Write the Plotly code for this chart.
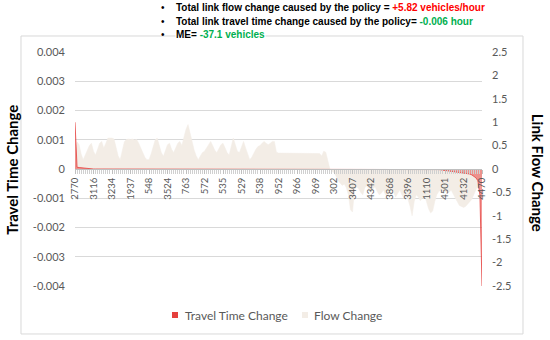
import plotly.graph_objects as go

# ---------------- data ----------------
tick_labels = ["2770", "3116", "3234", "1937", "548", "3524", "763", "572", "535",
               "529", "538", "952", "966", "969", "302", "3407", "4342", "3868",
               "3396", "1110", "4501", "4132", "4470"]
label_step = 9  # one label every 9 links

flow_change = [
    0.30, 0.58, 0.52, 0.32, 0.20, 0.30, 0.42, 0.50, 0.55,
    0.38, 0.30, 0.42, 0.55, 0.59, 0.45, 0.55, 0.66, 0.66,
    0.66, 0.64, 0.45, 0.28, 0.20, 0.38, 0.58, 0.63, 0.64,
    0.63, 0.64, 0.62, 0.63, 0.55, 0.45, 0.35, 0.25, 0.20,
    0.20, 0.32, 0.50, 0.62, 0.66, 0.52, 0.35, 0.27, 0.40,
    0.52, 0.55, 0.42, 0.35, 0.45, 0.55, 0.59, 0.50, 0.68,
    0.85, 0.95, 0.75, 0.55, 0.40, 0.28, 0.20, 0.28, 0.35,
    0.38, 0.45, 0.52, 0.59, 0.50, 0.40, 0.35, 0.45, 0.52,
    0.55, 0.45, 0.35, 0.30, 0.50, 0.66, 0.52, 0.38, 0.35,
    0.48, 0.59, 0.45, 0.30, 0.20, 0.25, 0.35, 0.42, 0.48,
    0.50, 0.55, 0.59, 0.55, 0.52, 0.55, 0.59, 0.59, 0.36,
    0.34, 0.34, 0.34, 0.34, 0.34, 0.34, 0.34, 0.34, 0.34,
    0.34, 0.34, 0.34, 0.34, 0.34, 0.34, 0.34, 0.34, 0.34,
    0.34, 0.34, 0.33, 0.28, 0.38, 0.36, 0.20, 0.00, -0.05,
    -0.08, -0.15, -0.25, -0.30, -0.35, -0.32, -0.40, -0.55, -0.87,
    -0.92, -0.45, -0.38, -0.42, -0.50, -0.55, -0.40, -0.35, -0.45,
    -0.50, -0.42, -0.38, -0.48, -0.55, -0.52, -0.45, -0.55, -0.60,
    -0.48, -0.40, -0.50, -0.60, -0.52, -0.45, -0.55, -0.62, -0.58,
    -0.65, -0.80, -1.00, -0.70, -0.55, -0.60, -0.68, -0.62, -0.55,
    -0.70, -0.85, -0.94, -0.90, -0.70, -0.55, -0.48, -0.45, -0.50,
    -0.48, -0.52, -0.50, -0.45, -0.55, -0.62, -0.70, -0.78, -0.80,
    -0.82, -0.80, -0.75, -0.72, -0.65, -0.55, -0.45, -0.35, -0.25,
    -0.15,
]

travel_time_change = [
    0.0016, 0.00006, 0.00005, 0.00004, 0.00003, 0.00002, 0.00001, 0.0, 0.0,
    0.0, 0.0, 0.0, 0.0, 0.0, 0.0, 0.0, 0.0, 0.0,
    0.0, 0.0, 0.0, 0.0, 0.0, 0.0, 0.0, 0.0, 0.0,
    0.0, 0.0, 0.0, 0.0, 0.0, 0.0, 0.0, 0.0, 0.0,
    0.0, 0.0, 0.0, 0.0, 0.0, 0.0, 0.0, 0.0, 0.0,
    0.0, 0.0, 0.0, 0.0, 0.0, 0.0, 0.0, 0.0, 0.0,
    0.0, 0.0, 0.0, 0.0, 0.0, 0.0, 0.0, 0.0, 0.0,
    0.0, 0.0, 0.0, 0.0, 0.0, 0.0, 0.0, 0.0, 0.0,
    0.0, 0.0, 0.0, 0.0, 0.0, 0.0, 0.0, 0.0, 0.0,
    0.0, 0.0, 0.0, 0.0, 0.0, 0.0, 0.0, 0.0, 0.0,
    0.0, 0.0, 0.0, 0.0, 0.0, 0.0, 0.0, 0.0, 0.0,
    0.0, 0.0, 0.0, 0.0, 0.0, 0.0, 0.0, 0.0, 0.0,
    0.0, 0.0, 0.0, 0.0, 0.0, 0.0, 0.0, 0.0, 0.0,
    0.0, 0.0, 0.0, 0.0, 0.0, 0.0, 0.0, 0.0, 0.0,
    0.0, 0.0, 0.0, 0.0, 0.0, 0.0, 0.0, 0.0, 0.0,
    0.0, 0.0, 0.0, 0.0, 0.0, 0.0, 0.0, 0.0, 0.0,
    0.0, 0.0, 0.0, 0.0, 0.0, 0.0, 0.0, 0.0, 0.0,
    0.0, 0.0, 0.0, 0.0, 0.0, 0.0, 0.0, 0.0, 0.0,
    0.0, 0.0, 0.0, 0.0, 0.0, 0.0, 0.0, 0.0, 0.0,
    0.0, 0.0, 0.0, 0.0, 0.0, 0.0, -0.00002, -0.00003, -0.00004,
    -0.00005, -0.00005, -0.00006, -0.00006, -0.00007, -0.00008, -0.00009, -0.0001, -0.00011,
    -0.00012, -0.00013, -0.00015, -0.00017, -0.0002, -0.00024, -0.0003, -0.0004, -0.0009,
    -0.004,
]

tt_ticks = [-0.004, -0.003, -0.002, -0.001, 0, 0.001, 0.002, 0.003, 0.004]
tt_tick_text = ["-0.004", "-0.003", "-0.002", "-0.001", "0", "0.001", "0.002", "0.003", "0.004"]
flow_ticks = [-2.5, -2, -1.5, -1, -0.5, 0, 0.5, 1, 1.5, 2, 2.5]
flow_tick_text = ["-2.5", "-2", "-1.5", "-1", "-0.5", "0", "0.5", "1", "1.5", "2", "2.5"]

series_names = ["Travel Time Change", "Flow Change"]
notes = [
    ("Total link flow change caused by the policy = ", "+5.82 vehicles/hour", "#FF0000"),
    ("Total link travel time change caused by the policy= ", "-0.006 hour", "#00B050"),
    ("ME= ", "-37.1 vehicles", "#00B050"),
]

# ---------------- styling ----------------
RED = "#E5403D"
RED_FILL = "rgba(232,70,66,0.55)"
BEIGE = "#F3EDE6"
GRAY_TXT = "#595959"
GRID = "#D9D9D9"
FONT = "Lato, Liberation Sans, sans-serif"

x = list(range(len(flow_change)))
tickvals = [i * label_step for i in range(len(tick_labels))]

fig = go.Figure()

# Flow change (right axis) - drawn first (below)
fig.add_trace(go.Scatter(
    x=x, y=flow_change, yaxis="y", mode="lines", name=series_names[1],
    line=dict(color=BEIGE, width=0.5), fill="tozeroy", fillcolor=BEIGE,
    showlegend=False, hoverinfo="skip"))

# Travel time change (left axis) - drawn on top
fig.add_trace(go.Scatter(
    x=x, y=travel_time_change, yaxis="y2", mode="lines", name=series_names[0],
    line=dict(color=RED, width=0.8), fill="tozeroy", fillcolor=RED_FILL,
    showlegend=False, hoverinfo="skip"))

fig.update_layout(
    width=550, height=340,
    margin=dict(l=75, r=68, t=52, b=54, autoexpand=False),
    paper_bgcolor="white", plot_bgcolor="white",
    font=dict(family=FONT, color=GRAY_TXT, size=11),
    showlegend=False,
    xaxis=dict(
        range=[0, len(x) - 1], anchor="free", position=0.5, automargin=False,
        tickmode="array", tickvals=tickvals, ticktext=tick_labels,
        tickangle=-90, tickfont=dict(size=9.5, color=GRAY_TXT, family=FONT),
        showgrid=False, zeroline=False, showline=True, linecolor="#BFBFBF", linewidth=1,
        ticks="outside", ticklen=4, tickcolor="#BFBFBF",
        minor=dict(tickmode="linear", tick0=0, dtick=1, ticks="outside", ticklen=4,
                   tickcolor="#D0D0D0", showgrid=False),
        fixedrange=True,
    ),
    yaxis=dict(
        side="right", range=[-2.5, 2.5], tickmode="array", automargin=False,
        tickvals=flow_ticks, ticktext=flow_tick_text,
        showgrid=False, zeroline=False, showline=False, ticks="",
        ticklabelstandoff=9, tickfont=dict(size=11, color=GRAY_TXT, family=FONT),
    ),
    yaxis2=dict(
        side="left", overlaying="y", range=[-0.004, 0.004], tickmode="array",
        automargin=False, tickvals=tt_ticks, ticktext=tt_tick_text,
        showgrid=True, gridcolor=GRID, gridwidth=1, zeroline=False, showline=False,
        ticks="", ticklabelstandoff=9, tickfont=dict(size=11, color=GRAY_TXT, family=FONT),
    ),
)

# outer chart border
fig.add_shape(type="rect", xref="paper", yref="paper",
              x0=-0.1327, x1=1.1007, y0=-0.205, y1=1.0684,
              line=dict(color=GRID, width=1), fillcolor="rgba(0,0,0,0)", layer="below")

# legend (marker squares + labels, placed like the original)
legend_items = [
    (series_names[0], RED, 0.2383, 0.2654),
    (series_names[1], BEIGE, 0.5577, 0.5823),
]
for name, col, sx, tx in legend_items:
    fig.add_shape(type="rect", xref="paper", yref="paper",
                  x0=sx, x1=sx + 0.0148, y0=-0.1368, y1=-0.1111,
                  line=dict(width=0), fillcolor=col)
    fig.add_annotation(text=name, xref="paper", yref="paper", x=tx, y=-0.124,
                       showarrow=False, xanchor="left", yanchor="middle",
                       font=dict(size=12, color=GRAY_TXT, family=FONT))

# axis titles
fig.add_annotation(text="<b>Travel Time Change</b>", xref="paper", yref="paper",
                   x=-0.155, y=0.496, textangle=-90, showarrow=False,
                   font=dict(size=15, color="black", family=FONT),
                   xanchor="center", yanchor="middle")
fig.add_annotation(text="<b>Link Flow Change</b>", xref="paper", yref="paper",
                   x=1.138, y=0.483, textangle=90, showarrow=False,
                   font=dict(size=15, color="black", family=FONT),
                   xanchor="center", yanchor="middle")

# top notes with bullets
note_y = [1.190, 1.130, 1.075]
for (txt, val, col), yy in zip(notes, note_y):
    fig.add_annotation(text="•", xref="paper", yref="paper", x=0.216, y=yy,
                       showarrow=False, xanchor="center", yanchor="middle",
                       font=dict(size=10, color="black", family="Liberation Sans, Arial"))
    fig.add_annotation(
        text=f"<b>{txt}<span style='color:{col}'>{val}</span></b>",
        xref="paper", yref="paper", x=0.2457, y=yy, showarrow=False,
        xanchor="left", yanchor="middle", bgcolor="white", borderpad=0,
        font=dict(size=10, color="black", family="Liberation Sans, Arial"))

# remove the page's default body margin so the 550x340 figure fills the window
fig.write_html("out.html", config={"displayModeBar": False},
               post_script="document.body.style.margin='0px';")
